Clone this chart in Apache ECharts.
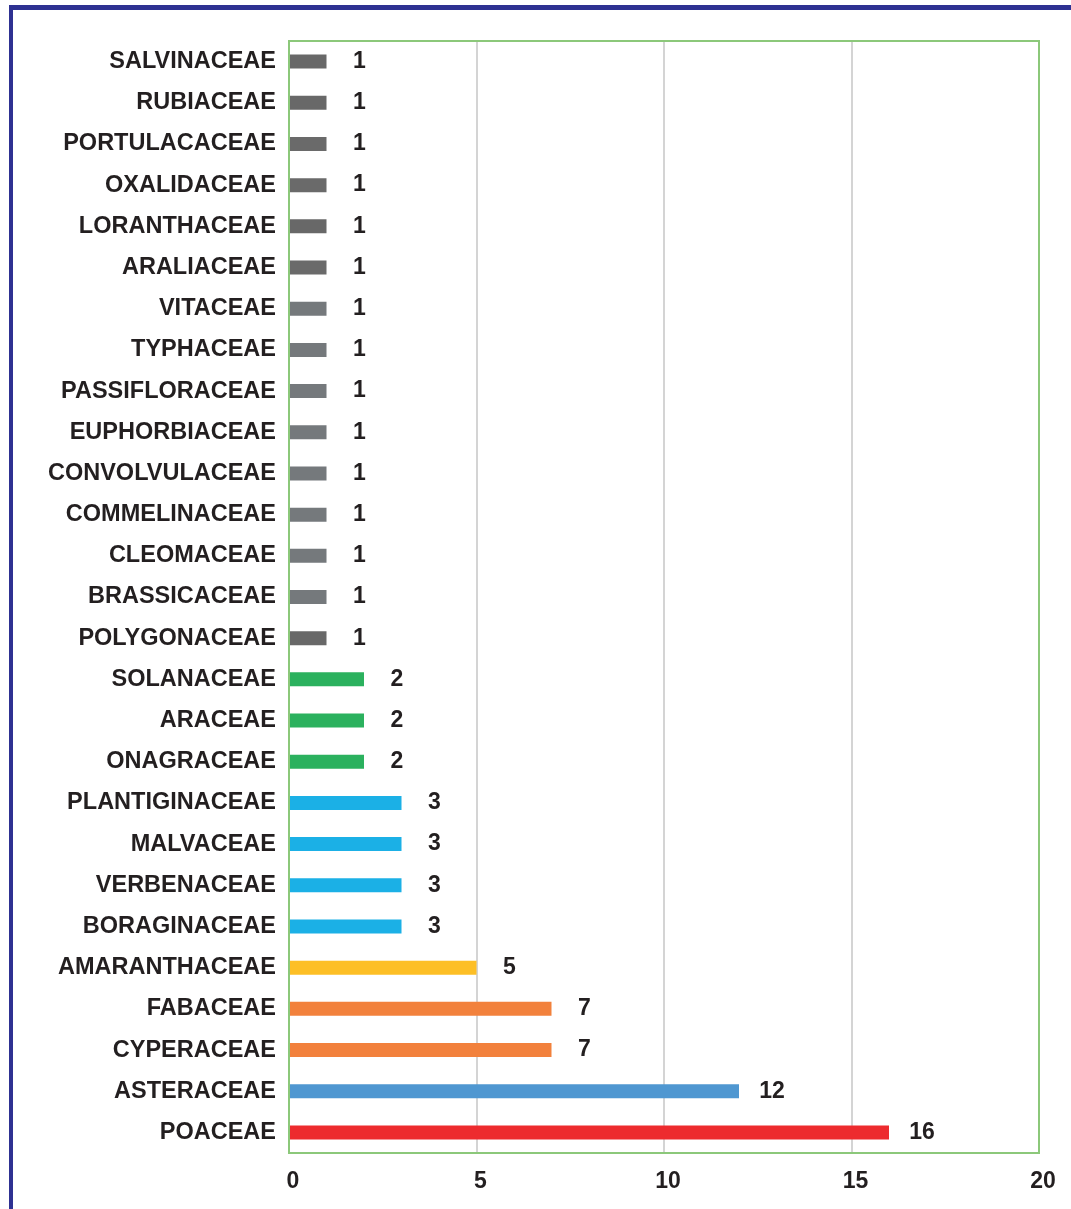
<!DOCTYPE html>
<html>
<head>
<meta charset="utf-8">
<style>
html,body{margin:0;padding:0;background:#fff;}
#frame{position:absolute;left:9px;top:5px;width:1062px;height:1204px;border-left:4px solid #2e3192;border-top:5px solid #2e3192;box-sizing:border-box;}
#chart{position:absolute;left:0;top:0;width:1071px;height:1209px;}
</style>
<script src="https://cdn.jsdelivr.net/npm/echarts@6/dist/echarts.min.js"></script>
</head>
<body>
<div id="frame"></div>
<div id="chart"></div>
<script>
var families = ["SALVINACEAE","RUBIACEAE","PORTULACACEAE","OXALIDACEAE","LORANTHACEAE","ARALIACEAE","VITACEAE","TYPHACEAE","PASSIFLORACEAE","EUPHORBIACEAE","CONVOLVULACEAE","COMMELINACEAE","CLEOMACEAE","BRASSICACEAE","POLYGONACEAE","SOLANACEAE","ARACEAE","ONAGRACEAE","PLANTIGINACEAE","MALVACEAE","VERBENACEAE","BORAGINACEAE","AMARANTHACEAE","FABACEAE","CYPERACEAE","ASTERACEAE","POACEAE"];
var counts = [1,1,1,1,1,1,1,1,1,1,1,1,1,1,1,2,2,2,3,3,3,3,5,7,7,12,16];
var barColors = ["#686868","#686868","#6a6a6a","#6a6a6a","#686868","#6a6a6a","#75797c","#75797c","#75797c","#75797c","#75797c","#75797c","#75797c","#75797c","#686868","#2bb15e","#2bb15e","#2bb15e","#1bb0e6","#1bb0e6","#1bb0e6","#1bb0e6","#fdbf26","#f2813c","#f2813c","#4f97d1","#ed2b2e"];
var xTicks = {min:0, max:20, interval:5};

var chart = echarts.init(document.getElementById('chart'));
var font = "'Liberation Sans', Arial, sans-serif";
chart.setOption({
  animation:false,
  grid:{left:289, top:41, right:32, bottom:56, show:true, borderColor:'#8cc87a', borderWidth:2, backgroundColor:'transparent', z:3},
  xAxis:{type:'value', min:xTicks.min, max:xTicks.max, interval:xTicks.interval,
    axisLine:{show:false}, axisTick:{show:false},
    splitLine:{show:true, showMinLine:false, showMaxLine:false, lineStyle:{color:'#d4d4d4', width:2}},
    axisLabel:{fontFamily:font, fontWeight:'bold', fontSize:23, color:'#231f20', margin:17, padding:[0,0,0,8],
      formatter:function(v){return v;}}
  },
  yAxis:{type:'category', data:families, inverse:true,
    axisLine:{show:false}, axisTick:{show:false},
    axisLabel:{fontFamily:font, fontWeight:'bold', fontSize:23.5, color:'#231f20', margin:13}
  },
  series:[{type:'bar', barWidth:14,
    data:counts.map(function(v,i){return {value:v, itemStyle:{color:barColors[i]}};}),
    label:{show:true, position:'right', distance:33, align:'center',
      fontFamily:font, fontWeight:'bold', fontSize:23, color:'#231f20'}
  }]
});
</script>
</body>
</html>
